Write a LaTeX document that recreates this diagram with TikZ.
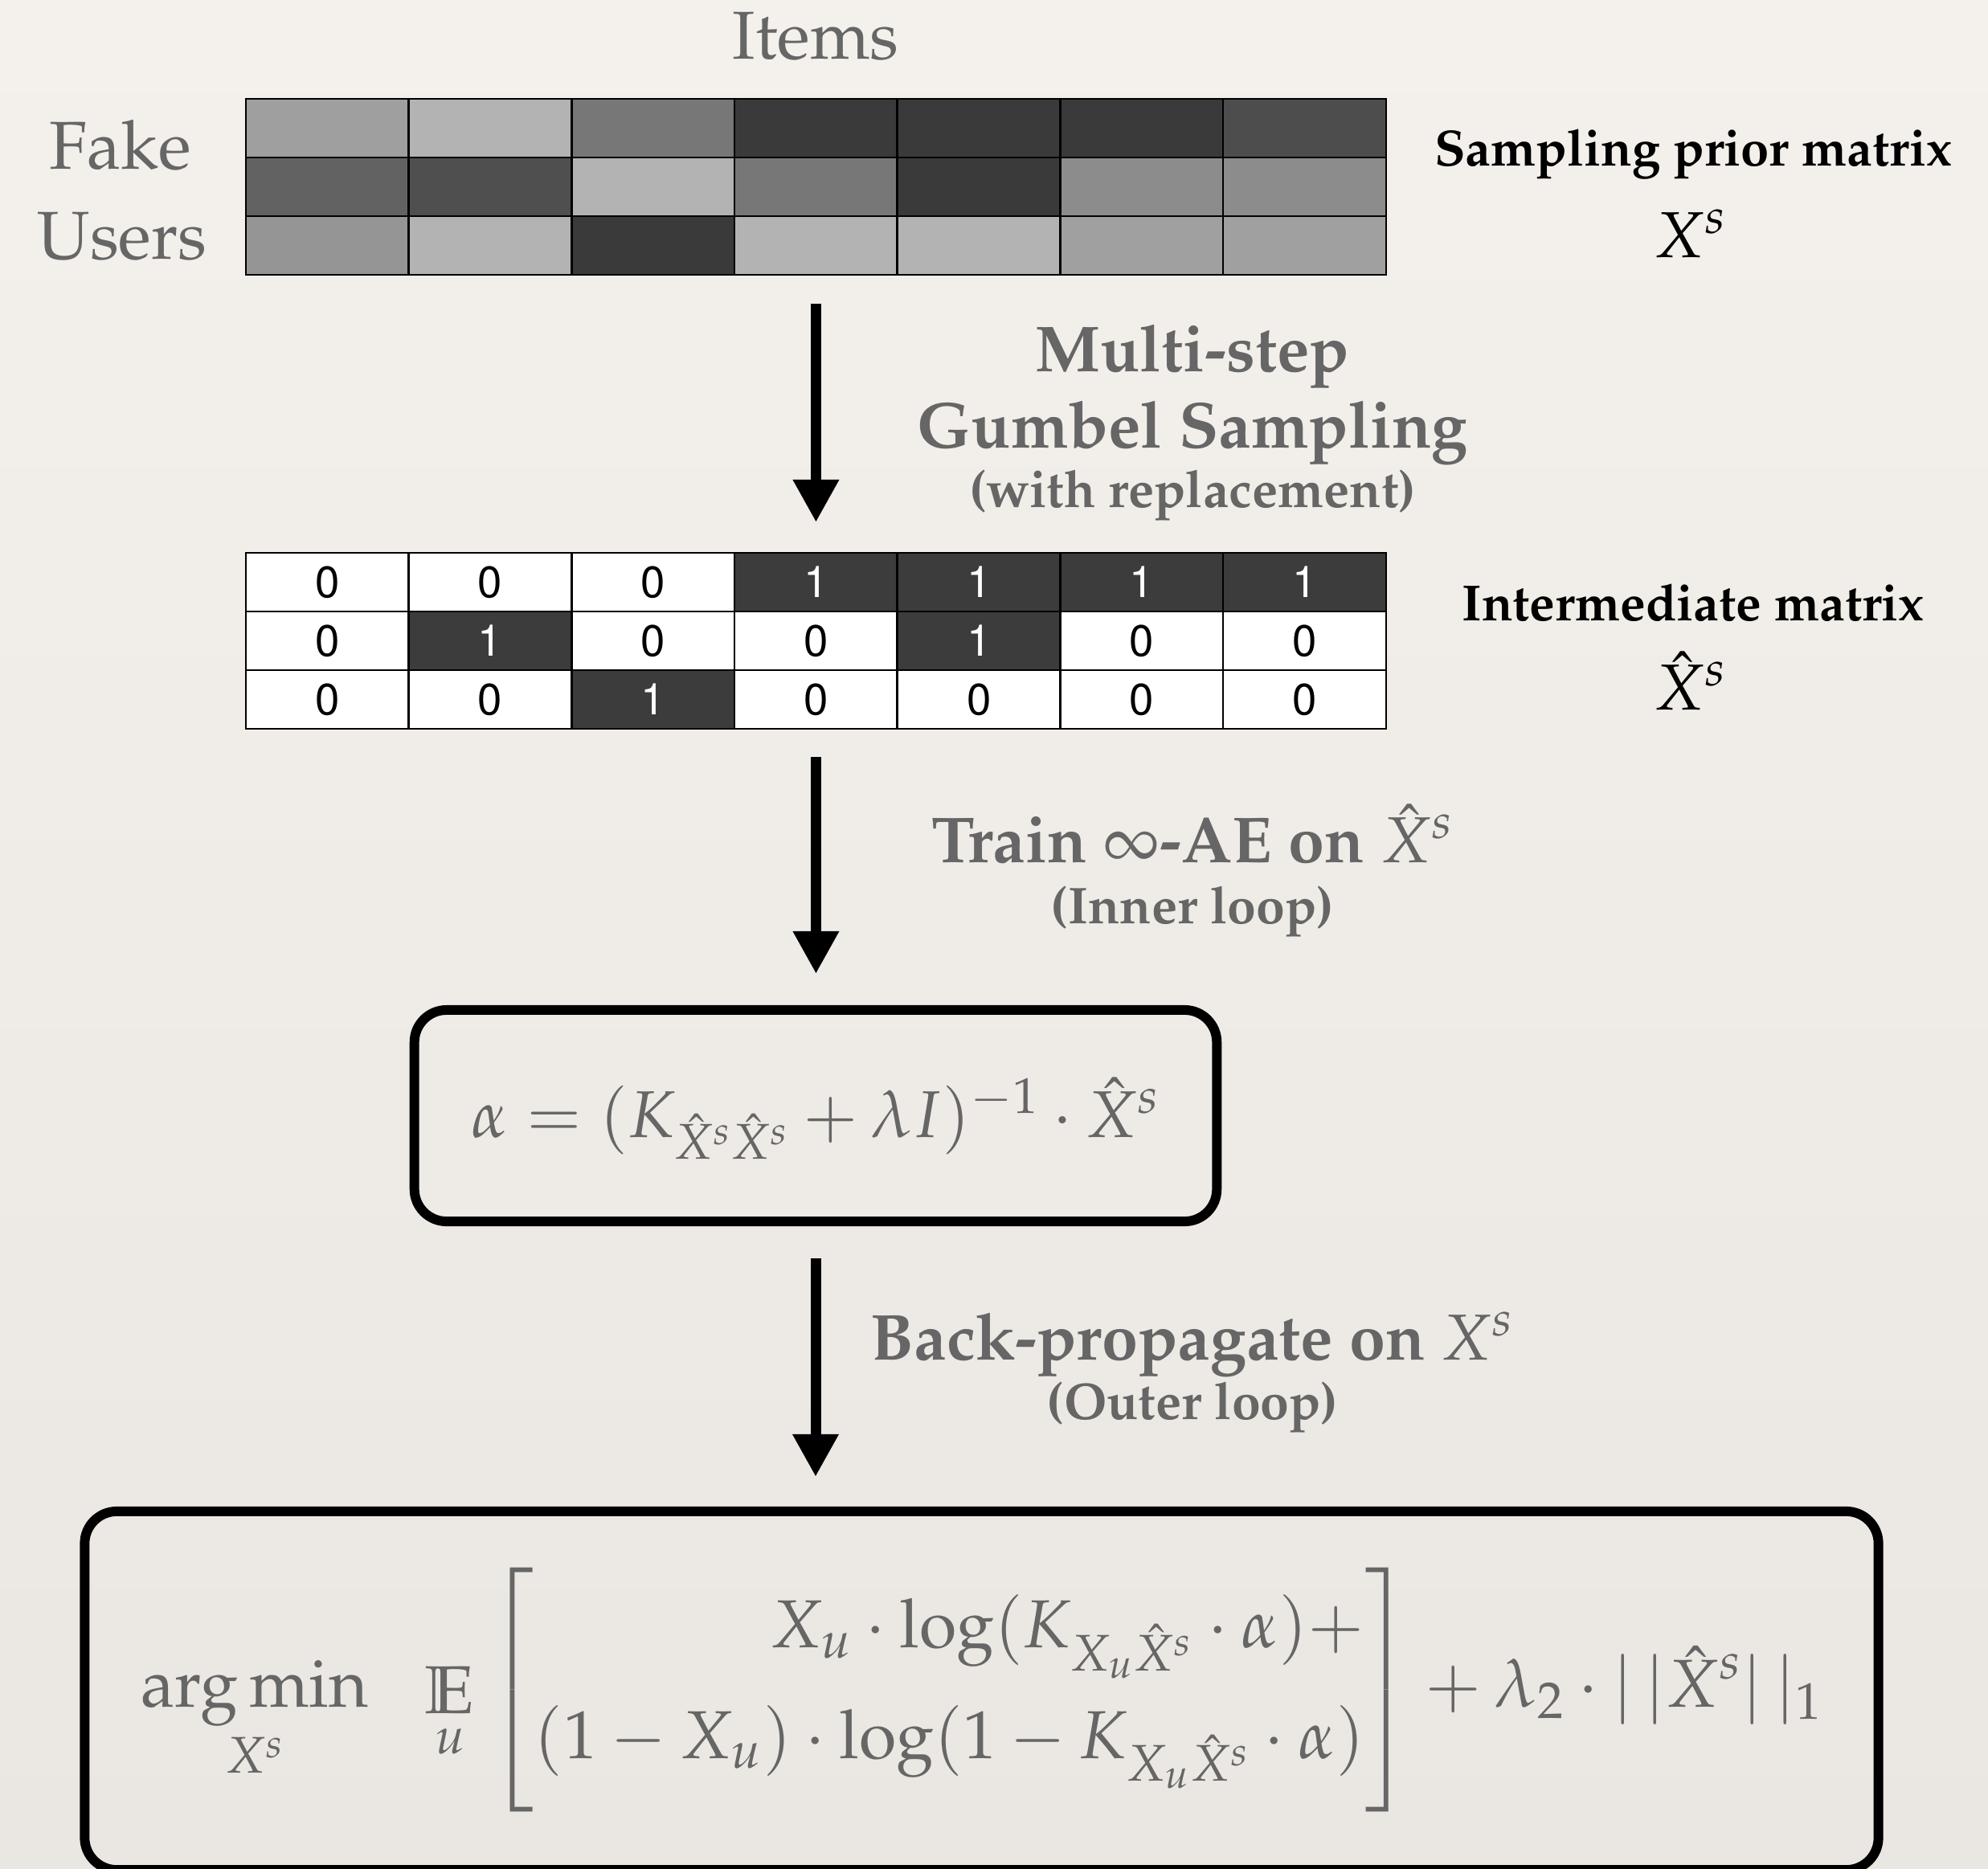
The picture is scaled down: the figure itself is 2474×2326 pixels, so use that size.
\documentclass[tikz,border=0pt]{standalone}
\usepackage[T1]{fontenc}
\usepackage{amsmath,amssymb}
\usepackage{mathpazo}
\usepackage{helvet}
\usetikzlibrary{arrows.meta,fit}

\definecolor{inkgray}{HTML}{666666}
\definecolor{paperTop}{HTML}{F4F1EC}
\definecolor{paperBot}{HTML}{EAE7E2}
\definecolor{cellDark}{HTML}{3C3C3C}

\tikzset{
  cellbox/.style={draw=black, line width=0.75pt, minimum width=2.027cm, minimum height=0.73cm,
    inner sep=0pt, outer sep=0pt},
  bit0/.style={fill=white, text=black},
  bit1/.style={fill=cellDark, text=white},
  flow/.style={line width=3.7pt, -{Triangle[width=0.54cm,length=0.53cm]}},
  card/.style={draw=black, line width=3.4pt, rounded corners=0.4cm, inner sep=0pt, outer sep=0pt},
  headtxt/.style={text=inkgray, font=\fontsize{24}{28}\selectfont, anchor=base, inner sep=0pt},
  sidecap/.style={text=black, font=\fontsize{18}{22}\selectfont\bfseries, anchor=base, inner sep=0pt},
  sidemath/.style={text=black, font=\fontsize{23}{27}\selectfont, anchor=base, inner sep=0pt},
  flowtxt/.style={text=inkgray, font=\fontsize{23}{27}\selectfont\bfseries, anchor=base, inner sep=0pt},
  flownote/.style={text=inkgray, font=\fontsize{18.3}{22}\selectfont\bfseries, anchor=base, inner sep=0pt},
}

\begin{document}
\begin{tikzpicture}[x=0.01cm, y=-0.01cm]
  % paper background
  \shade[top color=paperTop, bottom color=paperBot] (0,0) rectangle (2474,2326);
  \useasboundingbox (0,0) rectangle (2474,2326);

  % axis labels of the prior matrix
  \node[headtxt] (items) at (1015,73) {Items};
  \node[headtxt] (fake)  at (150,210) {Fake};
  \node[headtxt] (users) at (152,322) {Users};

  % sampling prior matrix (grey levels)
  \foreach \r/\c/\g in {1/1/9F9F9F,1/2/B3B3B3,1/3/777777,1/4/3A3A3A,1/5/3A3A3A,1/6/3A3A3A,1/7/4D4D4D,
                        2/1/626262,2/2/4F4F4F,2/3/B3B3B3,2/4/777777,2/5/3A3A3A,2/6/8C8C8C,2/7/8C8C8C,
                        3/1/959595,3/2/B3B3B3,3/3/3A3A3A,3/4/B3B3B3,3/5/B3B3B3,3/6/A0A0A0,3/7/A0A0A0}{
    \definecolor{priorfill}{HTML}{\g}
    \node[cellbox, fill=priorfill] (p-\r-\c) at ({306+202.7*(\c-0.5)},{123+73*(\r-0.5)}) {};
  }
  \node[fit=(p-1-1)(p-3-7), inner sep=0pt, outer sep=0pt] (prior) {};

  \node[sidecap]  (priorcap)  at (2107,206) {Sampling prior matrix};
  \node[sidemath] (priorsym)  at (2104,320) {$X^s$};

  % binary intermediate matrix
  \foreach \r/\c/\v in {1/1/0,1/2/0,1/3/0,1/4/1,1/5/1,1/6/1,1/7/1,
                        2/1/0,2/2/1,2/3/0,2/4/0,2/5/1,2/6/0,2/7/0,
                        3/1/0,3/2/0,3/3/1,3/4/0,3/5/0,3/6/0,3/7/0}{
    \node[cellbox, bit\v, font=\sffamily\fontsize{15.5}{18}\selectfont]
      (q-\r-\c) at ({306+202.7*(\c-0.5)},{688+73*(\r-0.5)}) {\v};
  }
  \node[fit=(q-1-1)(q-3-7), inner sep=0pt, outer sep=0pt] (inter) {};

  \node[sidecap]  (intercap) at (2107,772) {Intermediate matrix};
  \node[sidemath] (intersym) at (2104,883) {$\hat{X}^s$};

  % step 1: sampling
  \node[flowtxt]  (s1a) at (1484,462) {Multi-step};
  \node[flowtxt]  (s1b) at (1484,557) {Gumbel Sampling};
  \node[flownote] (s1c) at (1484,631) {(with replacement)};

  % inner solution box
  \node[card, minimum width=9.98cm, minimum height=2.63cm] (inner) at (1015,1388.5) {};
  \node[text=inkgray, font=\fontsize{23.4}{28}\selectfont, anchor=base, inner sep=0pt] (alpha)
    at (1015,1415) {$\alpha = (K_{\hat{X}^s\hat{X}^s} + \lambda I)^{-1}\cdot \hat{X}^s$};

  % step 2: inner loop
  \node[flowtxt]  (s2a) at (1484,1073) {Train $\infty$-AE on $\hat{X}^s$};
  \node[flownote] (s2b) at (1484,1149) {(Inner loop)};

  % step 3: outer loop
  \node[flowtxt]  (s3a) at (1484,1692) {Back-propagate on $X^s$};
  \node[flownote] (s3b) at (1484,1766) {(Outer loop)};

  % outer objective box
  \node[card, minimum width=22.31cm, minimum height=4.46cm] (outer) at (1221.5,2104) {};
  \node[text=inkgray, font=\fontsize{24}{29}\selectfont, inner sep=0pt] (loss) at (1222,2103)
    {$\displaystyle \operatorname*{arg\,min}_{X^s}\hskip 16pt \mathop{\mathbb{E}}\limits_{u}
      \left[\vrule width 0pt height 49pt depth 37pt
      \begin{array}{@{}r@{}}
        X_u\cdot\log(K_{X_u\hat{X}^s}\cdot\alpha)+\\[10pt]
        (1-X_u)\cdot\log(1-K_{X_u\hat{X}^s}\cdot\alpha)
      \end{array}\right] + \lambda_2\cdot |\,|\hat{X}^s|\,|_1$};

  % connectors (kept vertical under each source)
  \coordinate (tip1) at (prior.south |- inter.north);
  \coordinate (tip2) at (inter.south |- inner.north);
  \coordinate (tip3) at (inner.south |- outer.north);
  \draw[flow] ([yshift=-0.36cm]prior.south) -- ([yshift=0.38cm]tip1);
  \draw[flow] ([yshift=-0.35cm]inter.south) -- ([yshift=0.45cm]tip2);
  \draw[flow] ([yshift=-0.46cm]inner.south) -- ([yshift=0.43cm]tip3);
\end{tikzpicture}
\end{document}
